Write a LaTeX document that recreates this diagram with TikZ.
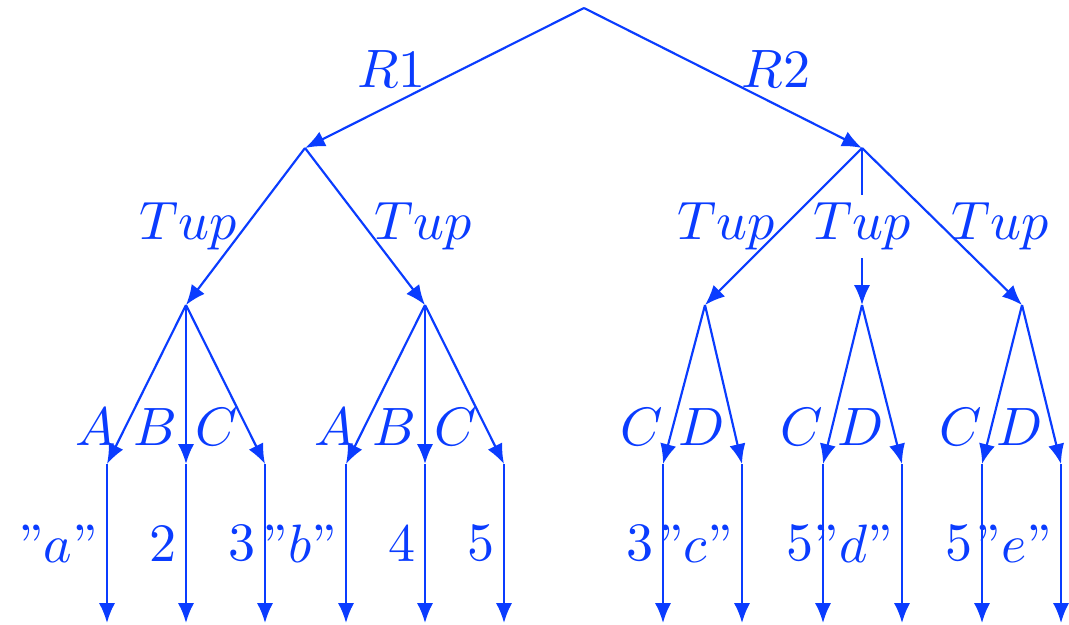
\documentclass[tikz,border=0pt]{standalone}
\usetikzlibrary{arrows.meta}
\definecolor{treeblue}{HTML}{0A3CFF}
\tikzset{flow/.style={-{Latex[length=3.7pt,width=3pt]},draw=treeblue},
  lbl/.style={text=treeblue,inner sep=1.5pt}}

\begin{document}
\begin{tikzpicture}[x=0.185pt,y=-0.185pt]
\useasboundingbox (0,0) rectangle (1069,624);
% tree points
\coordinate (root) at (584,8);
\coordinate (r1) at (305,148);
\coordinate (r2) at (862,148);
\coordinate (t1) at (186,305);
\coordinate (t2) at (425,305);
\coordinate (t3) at (705,305);
\coordinate (t4) at (862,305);
\coordinate (t5) at (1022,305);
% rules
\draw[flow] (root) -- node[lbl,anchor=east,xshift=-1.75pt,yshift=1.75pt] (lr1) {$R1$} (r1);
\draw[flow] (root) -- node[lbl,anchor=west,xshift=1.75pt,yshift=1.75pt] (lr2) {$R2$} (r2);
% tuples (middle one first, its label hides the line)
\draw[flow] (r2) -- node[lbl,fill=white] (lt4) {$Tup$} (t4);
\draw[flow] (r1) -- node[lbl,left] (lt1) {$Tup$} (t1);
\draw[flow] (r1) -- node[lbl,right] (lt2) {$Tup$} (t2);
\draw[flow] (r2) -- node[lbl,left] (lt3) {$Tup$} (t3);
\draw[flow] (r2) -- node[lbl,right] (lt5) {$Tup$} (t5);
% leaves and their values
\foreach \n/\x/\v in {l1/107/{''$a$''},l2/186/2,l3/265/3,l4/346/{''$b$''},
    l5/425/4,l6/504/5,l7/663/3,l8/742/{''$c$''},l9/823/5,
    l10/902/{''$d$''},l11/982/5,l12/1061/{''$e$''}}{
  \coordinate (\n) at (\x,464);
  \coordinate (\n-end) at (\x,623);
  \draw[flow] (\n) -- node[lbl,left] (\n-val) {\v} (\n-end);
}
% fields
\draw[flow] (t1) -- node[lbl,pos=.77,left] (la1) {$A$} (l1);
\draw[flow] (t1) -- node[lbl,pos=.77,left] (lb1) {$B$} (l2);
\draw[flow] (t1) -- node[lbl,pos=.77,left] (lc1) {$C$} (l3);
\draw[flow] (t2) -- node[lbl,pos=.77,left] (la2) {$A$} (l4);
\draw[flow] (t2) -- node[lbl,pos=.77,left] (lb2) {$B$} (l5);
\draw[flow] (t2) -- node[lbl,pos=.77,left] (lc2) {$C$} (l6);
\draw[flow] (t3) -- node[lbl,pos=.77,left] (lc3) {$C$} (l7);
\draw[flow] (t3) -- node[lbl,pos=.77,left] (ld3) {$D$} (l8);
\draw[flow] (t4) -- node[lbl,pos=.77,left] (lc4) {$C$} (l9);
\draw[flow] (t4) -- node[lbl,pos=.77,left] (ld4) {$D$} (l10);
\draw[flow] (t5) -- node[lbl,pos=.77,left] (lc5) {$C$} (l11);
\draw[flow] (t5) -- node[lbl,pos=.77,left] (ld5) {$D$} (l12);
\end{tikzpicture}
\end{document}
